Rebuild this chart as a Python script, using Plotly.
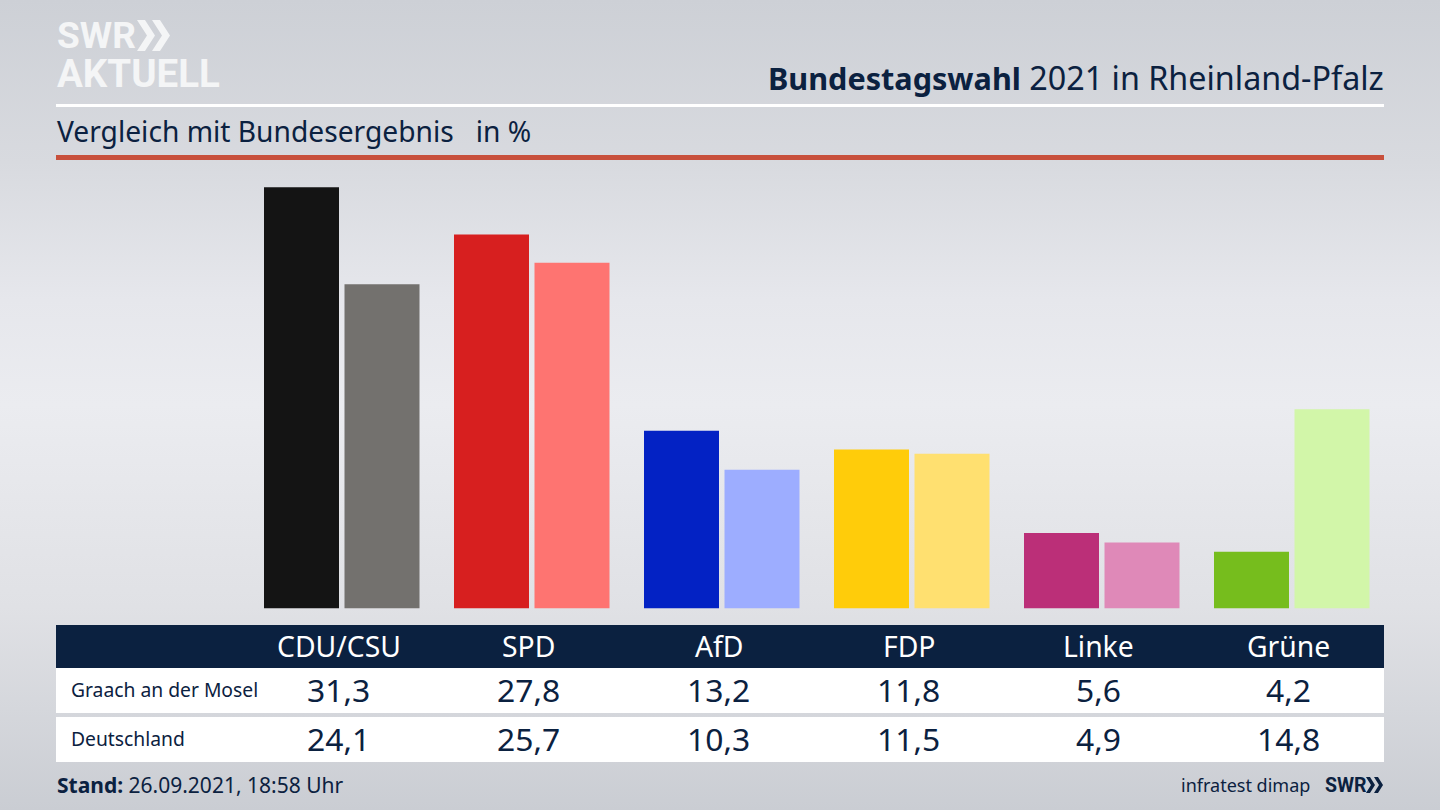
import plotly.graph_objects as go

PARTEIEN = ["CDU/CSU", "SPD", "AfD", "FDP", "Linke", "Grüne"]
GRAACH = [31.3, 27.8, 13.2, 11.8, 5.6, 4.2]
DEUTSCHLAND = [24.1, 25.7, 10.3, 11.5, 4.9, 14.8]
FARBEN_GRAACH = ["#141414", "#d71f1f", "#0322c4", "#ffcc0a", "#bb2f78", "#76bd1d"]
FARBEN_DEUTSCHLAND = ["#73716e", "#fe7471", "#9dadff", "#ffe070", "#df89b8", "#d2f6a9"]

WIDTH = 1440
HEIGHT = 810
NAVY = "#0b2140"
LOGO = "#f4f5f6"
FONT = "Noto Sans"
LOGO_FONT = "Roboto"

# pixel layout of the broadcast graphic
BASELINE = 608.3
PX_PER_UNIT = 13.45
GROUP_STEP = 190
GROUP_X0 = 341.5
BAR_W = 75


def px(x):
    return x / WIDTH


def py(y):
    return 1 - y / HEIGHT


def rect(x0, y0, x1, y1, color):
    return dict(type="rect", xref="paper", yref="paper", layer="below",
                x0=px(x0), x1=px(x1), y0=py(y0), y1=py(y1),
                fillcolor=color, line_width=0)


def chevron(x, y0, y1, w, d, color):
    mid = (y0 + y1) / 2
    pts = [(x, y0), (x + w, y0), (x + w + d, mid), (x + w, y1), (x, y1), (x + d, mid)]
    path = "M " + " L ".join(f"{px(a):.5f},{py(b):.5f}" for a, b in pts) + " Z"
    return dict(type="path", xref="paper", yref="paper", path=path,
                fillcolor=color, line_width=0)


def label(x, y, text, size, color=NAVY, anchor="center", family=FONT):
    return dict(xref="paper", yref="paper", x=px(x), y=py(y), text=text,
                showarrow=False, xanchor=anchor, yanchor="middle",
                font=dict(size=size, color=color, family=family))


def wert(v):
    return f"{v:.1f}".replace(".", ",")


fig = go.Figure()
for name, values, colors, offset in [
    ("Graach an der Mosel", GRAACH, FARBEN_GRAACH, -77.5),
    ("Deutschland", DEUTSCHLAND, FARBEN_DEUTSCHLAND, 3),
]:
    fig.add_trace(go.Bar(
        x=PARTEIEN, y=values, name=name,
        marker=dict(color=colors, line_width=0),
        width=BAR_W / GROUP_STEP, offset=offset / GROUP_STEP,
        showlegend=False, hoverinfo="x+y",
    ))

shapes = [
    rect(56, 104, 1384, 107, "#ffffff"),
    rect(56, 155, 1384, 160, "#c8503c"),
    rect(56, 625, 1384, 668, NAVY),
    rect(56, 668, 1384, 713, "#ffffff"),
    rect(56, 717, 1384, 762, "#ffffff"),
    chevron(137, 20, 51, 8, 10, LOGO),
    chevron(152, 20, 51, 8, 10, LOGO),
    chevron(1366, 777, 793, 4, 5, NAVY),
    chevron(1374, 777, 793, 4, 5, NAVY),
]

annotations = [
    label(55, 36, "<b>SWR</b>", 37, LOGO, "left", LOGO_FONT),
    label(55, 73, "<b>AKTUELL</b>", 38.5, LOGO, "left", LOGO_FONT),
    label(1386, 77, "<span style='font-size:30.6px'><b>Bundestagswahl</b></span> 2021 in Rheinland-Pfalz",
          32.3, anchor="right"),
    label(55, 131.5, "Vergleich mit Bundesergebnis   in %", 28.2, anchor="left"),
    label(68.5, 689.5, "Graach an der Mosel", 19.3, anchor="left"),
    label(68.5, 738.5, "Deutschland", 19.3, anchor="left"),
    label(54.5, 785, "<b>Stand:</b> 26.09.2021, 18:58 Uhr", 21, anchor="left"),
    label(1312, 785, "infratest dimap", 18, anchor="right"),
    label(1323, 785, "<b>SWR</b>", 19.5, anchor="left", family=LOGO_FONT),
]
for i, partei in enumerate(PARTEIEN):
    cx = 338.5 + i * GROUP_STEP
    annotations.append(label(cx, 646, partei, 28.3, "#ffffff"))
    annotations.append(label(cx, 689.5, wert(GRAACH[i]), 31.8))
    annotations.append(label(cx, 738.5, wert(DEUTSCHLAND[i]), 31.8))

fig.update_layout(
    width=WIDTH,
    height=HEIGHT,
    margin=dict(l=0, r=0, t=0, b=0),
    paper_bgcolor="rgba(0,0,0,0)",
    plot_bgcolor="rgba(0,0,0,0)",
    shapes=shapes,
    annotations=annotations,
    xaxis=dict(
        type="category", categoryorder="array", categoryarray=PARTEIEN,
        range=[-GROUP_X0 / GROUP_STEP, (WIDTH - GROUP_X0) / GROUP_STEP],
        visible=False,
    ),
    yaxis=dict(
        range=[(BASELINE - HEIGHT) / PX_PER_UNIT, BASELINE / PX_PER_UNIT],
        visible=False,
    ),
)

# page background: soft vertical studio gradient
background = ("document.body.style.margin='0';"
              "document.body.style.background='linear-gradient(180deg,"
              "#cdd0d6 0%,#d8dadf 20%,#e6e7ec 37%,#ebecf0 50%,#e0e1e5 75%,#cacdd3 100%)';")
fig.write_html("out.html", post_script=background, config=dict(displayModeBar=False))
